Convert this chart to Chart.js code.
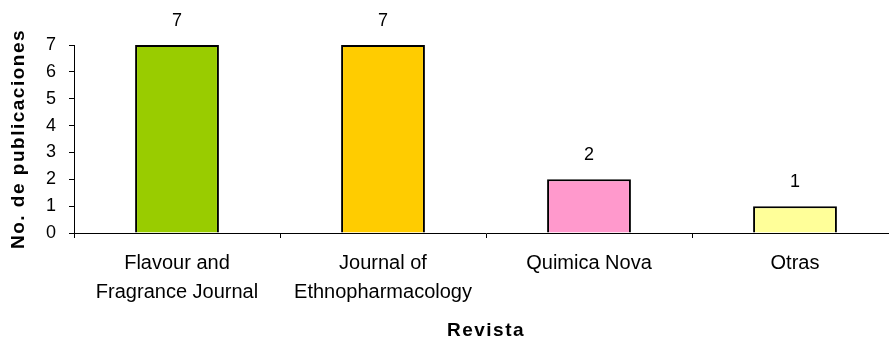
<!DOCTYPE html>
<html>
<head>
<meta charset="utf-8">
<script src="https://cdn.jsdelivr.net/npm/chart.js@4/dist/chart.umd.min.js"></script>
<style>
  html, body { margin: 0; padding: 0; background: #fff; overflow: hidden; }
  #wrap { width: 900px; height: 340px; }
</style>
</head>
<body>
<div id="wrap"><canvas id="chart"></canvas></div>
<script>
// Chart data
const categories = [
    ['Flavour and', 'Fragrance Journal'],
    ['Journal of', 'Ethnopharmacology'],
    'Quimica Nova',
    'Otras'
];
const publicaciones = [7, 7, 2, 1];
const barColors = ['#99CC00', '#FFCC00', '#FF99CC', '#FFFF99'];
const yTicks = [0, 1, 2, 3, 4, 5, 6, 7];

// Draw the value above each bar
const valueLabels = {
    id: 'valueLabels',
    afterDatasetsDraw(chart) {
        const ctx = chart.ctx;
        const meta = chart.getDatasetMeta(0);
        ctx.save();
        ctx.font = '18px "Liberation Sans", Arial, sans-serif';
        ctx.fillStyle = '#000';
        ctx.textAlign = 'center';
        ctx.textBaseline = 'middle';
        meta.data.forEach((bar, i) => {
            ctx.fillText(String(publicaciones[i]), bar.x, bar.y - 24);
        });
        ctx.restore();
    }
};

// Axis titles are drawn with wider letter spacing, like the original
function spaceTitle(axis) {
    if (axis._spaced) return;
    axis._spaced = true;
    const orig = axis.drawTitle;
    axis.drawTitle = function () {
        const c = this.ctx;
        c.letterSpacing = '1.5px';
        orig.apply(this, arguments);
        c.letterSpacing = '0px';
    };
}

Chart.defaults.font.family = '"Liberation Sans", Arial, sans-serif';
Chart.defaults.color = '#000';

new Chart(document.getElementById('chart'), {
    type: 'bar',
    data: {
        labels: categories,
        datasets: [{
            data: publicaciones,
            backgroundColor: barColors,
            borderColor: '#000',
            borderWidth: 2,
            categoryPercentage: 1,
            barPercentage: 0.407
        }]
    },
    options: {
        responsive: true,
        maintainAspectRatio: false,
        animation: false,
        layout: {
            padding: { top: 45, right: 2, left: 4, bottom: 0 }
        },
        plugins: {
            legend: { display: false },
            tooltip: { enabled: false }
        },
        scales: {
            x: {
                afterFit: spaceTitle,
                grid: {
                    drawOnChartArea: false,
                    drawTicks: true,
                    tickLength: 5,
                    color: '#000',
                    offset: true
                },
                border: { color: '#000', width: 1 },
                ticks: {
                    font: { size: 20, lineHeight: 1.45 },
                    padding: 10.5,
                    maxRotation: 0,
                    autoSkip: false
                },
                title: {
                    display: true,
                    text: 'Revista',
                    font: { size: 19, weight: 'bold', lineHeight: 1 },
                    padding: { top: 4, bottom: 0 }
                }
            },
            y: {
                min: 0,
                max: 7,
                afterFit: spaceTitle,
                afterBuildTicks(axis) {
                    axis.ticks = yTicks.map(v => ({ value: v }));
                },
                grid: {
                    drawOnChartArea: false,
                    drawTicks: true,
                    tickLength: 5,
                    color: '#000'
                },
                border: { color: '#000', width: 1 },
                ticks: {
                    font: { size: 18 },
                    padding: 13
                },
                title: {
                    display: true,
                    text: 'No. de publicaciones',
                    font: { size: 19, weight: 'bold' },
                    padding: { top: 3, bottom: 3.2 }
                }
            }
        }
    },
    plugins: [valueLabels]
});
</script>
</body>
</html>
